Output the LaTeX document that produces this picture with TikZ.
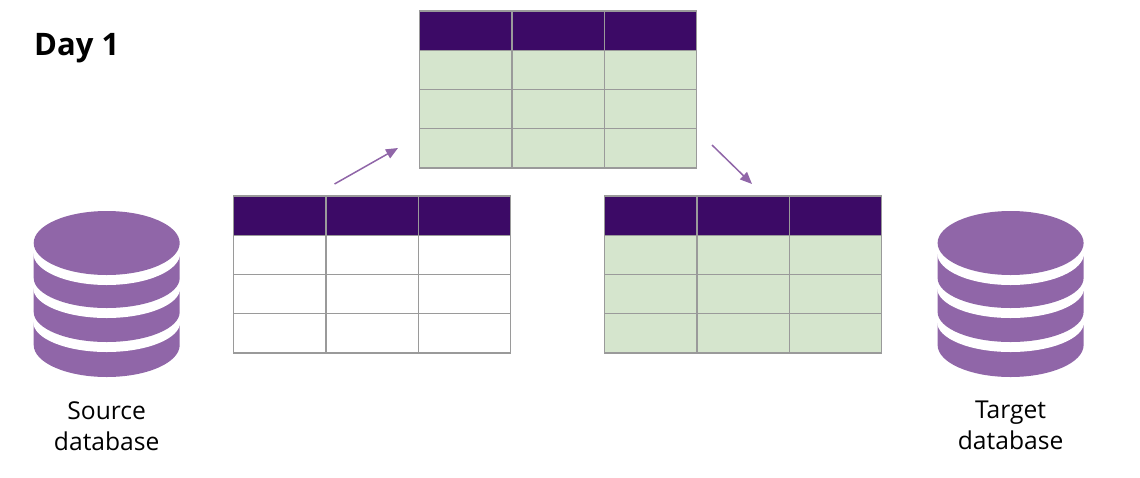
\documentclass[tikz,border=0pt]{standalone}
\usepackage{fontspec}
\setmainfont{Open Sans}
\usetikzlibrary{arrows.meta}
\definecolor{hdr}{HTML}{3C0A66}
\definecolor{grn}{HTML}{D5E5CD}
\definecolor{pur}{HTML}{9066A8}
\definecolor{gridc}{HTML}{9A9A9A}
\tikzset{
  cell/.style={draw=gridc,line width=1.3pt,minimum width=92.3pt,minimum height=39.25pt,inner sep=0pt,outer sep=0pt,anchor=north west},
  flow/.style={draw=pur,line width=1.5pt,-{Triangle[length=12pt,width=10pt]},shorten >=0pt},
  dblabel/.style={font=\fontsize{24.6}{31}\selectfont,text=black,align=center,anchor=north,inner sep=0pt},
}
\newcommand{\dbtable}[4]{%
  \foreach \c in {0,1,2}{
    \node[cell,fill=hdr] (#1-0-\c) at ({#2+\c*92.3},#3) {};
    \foreach \r in {1,2,3}{
      \node[cell,fill=#4] (#1-\r-\c) at ({#2+\c*92.3},{#3+\r*39.25}) {};
    }
  }
}
\newcommand{\dbicon}[2]{%
  \begin{scope}[shift={(#1,0)}]
    \fill[pur] (-73,322) -- (-73,345) arc[start angle=180,end angle=360,x radius=73,y radius=-32] -- (73,322) -- cycle;
    \fill[white] (0,322) ellipse[x radius=73.5,y radius=30];
    \fill[pur] (-73,288) -- (-73,312) arc[start angle=180,end angle=360,x radius=73,y radius=-30] -- (73,288) -- cycle;
    \fill[white] (0,288) ellipse[x radius=73.5,y radius=30];
    \fill[pur] (-73,253) -- (-73,278) arc[start angle=180,end angle=360,x radius=73,y radius=-30] -- (73,253) -- cycle;
    \fill[white] (0,253) ellipse[x radius=73.5,y radius=32];
    \fill[pur] (0,243) ellipse[x radius=73,y radius=32];
  \end{scope}
}
\begin{document}
\begin{tikzpicture}[x=1pt,y=-1pt]
\useasboundingbox (0,0) rectangle (1140,477);
\node[font=\fontsize{31}{36}\selectfont\bfseries,anchor=base west,inner sep=0pt] (title) at (34,55) {Day 1};
\dbtable{mid}{419.7}{11}{grn}
\dbtable{left}{233.7}{196}{white}
\dbtable{right}{604.7}{196}{grn}
\dbicon{106.7}{src}
\dbicon{1010.6}{tgt}
\node[dblabel] (srclabel) at (106.7,401) {Source\\database};
\node[dblabel] (tgtlabel) at (1010.6,401) {Target\\database};
\coordinate (a1s) at (334.5,184);
\coordinate (a1e) at (398,148);
\coordinate (a2s) at (712,145);
\coordinate (a2e) at (752,184);
\draw[flow] (a1s) -- (a1e);
\draw[flow] (a2s) -- (a2e);
\end{tikzpicture}
\end{document}
